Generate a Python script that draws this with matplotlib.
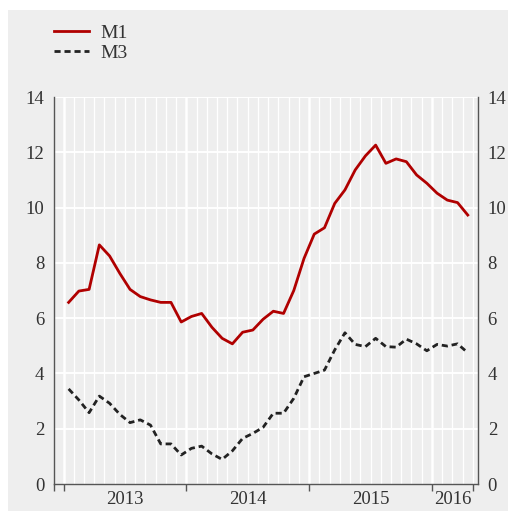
import matplotlib
matplotlib.use("Agg")
import matplotlib.pyplot as plt
from matplotlib.patches import Rectangle
import numpy as np

# monthly data, Jan 2013 - Apr 2016 (% y/y)
m1 = [6.57, 6.98, 7.04, 8.65, 8.25, 7.62, 7.04, 6.78, 6.66, 6.57,
      6.57, 5.86, 6.06, 6.17, 5.67, 5.27, 5.07, 5.49, 5.57, 5.96,
      6.25, 6.17, 7.00, 8.16, 9.04, 9.27, 10.15, 10.64, 11.36, 11.87,
      12.26, 11.60, 11.76, 11.66, 11.18, 10.88, 10.52, 10.27, 10.18, 9.73]
m3 = [3.44, 3.04, 2.58, 3.18, 2.92, 2.52, 2.22, 2.32, 2.13, 1.45,
      1.45, 1.05, 1.29, 1.37, 1.09, 0.89, 1.20, 1.65, 1.83, 2.05,
      2.56, 2.56, 3.10, 3.88, 4.00, 4.12, 4.85, 5.47, 5.05, 4.97,
      5.27, 4.97, 4.95, 5.24, 5.07, 4.82, 5.05, 4.99, 5.07, 4.75]
years = ['2013', '2014', '2015', '2016']
year_starts = [0, 12, 24, 36]
year_mid = [6, 18, 30, 38]

plt.rcParams['font.family'] = ['Liberation Serif', 'DejaVu Serif']
plt.rcParams['font.size'] = 13.5

bg = '#eeeeee'
fig = plt.figure(figsize=(5.08, 5.11), dpi=100)
fig.patch.set_facecolor('white')
fig.add_artist(Rectangle((8 / 508, 0), 1, 501 / 511, transform=fig.transFigure,
                         facecolor=bg, edgecolor='none', zorder=0))

ax = fig.add_axes([54 / 508, 27 / 511, 424 / 508, 387 / 511])
ax.set_facecolor(bg)

x = np.arange(len(m1)) + 0.5
n = len(m1)

# grid
for i in range(n + 1):
    ax.axvline(i, color='white', lw=1.8 if i in year_starts else 0.9, zorder=1)
for v in range(2, 15, 2):
    ax.axhline(v, color='white', lw=1.4, zorder=1)

ax.plot(x, m1, color='#b00000', lw=2.0, label='M1', zorder=3)
ax.plot(x, m3, color='#222222', lw=2.0, linestyle=(0, (2.2, 1.4)), label='M3', zorder=3)

ax.set_xlim(-0.93, 40.5)
ax.set_ylim(0, 14)

for s in ['left', 'right', 'bottom']:
    ax.spines[s].set_color('#555555')
    ax.spines[s].set_linewidth(1.0)
ax.spines['top'].set_visible(False)

ax.set_yticks(range(0, 15, 2))
ax.tick_params(axis='y', length=0, pad=7, labelcolor='#333333',
               left=True, right=True, labelleft=True, labelright=True)

ax.set_xticks([-0.93] + year_starts + [40])
ax.set_xticklabels([])
ax.set_xticks(year_mid, minor=True)
ax.set_xticklabels(years, minor=True)
ax.tick_params(axis='x', which='major', length=5, width=1.0, color='#555555', direction='out')
ax.tick_params(axis='x', which='minor', length=0, pad=5, labelcolor='#333333')

ax.legend(loc='upper left', bbox_to_anchor=(54 / 508, 1 - 24 / 511),
          bbox_transform=fig.transFigure, frameon=False, handlelength=1.8,
          handletextpad=0.6, labelspacing=0.15, borderaxespad=0, borderpad=0,
          fontsize=14, labelcolor='#333333')

fig.savefig('out.png', dpi=100, facecolor=fig.get_facecolor())
